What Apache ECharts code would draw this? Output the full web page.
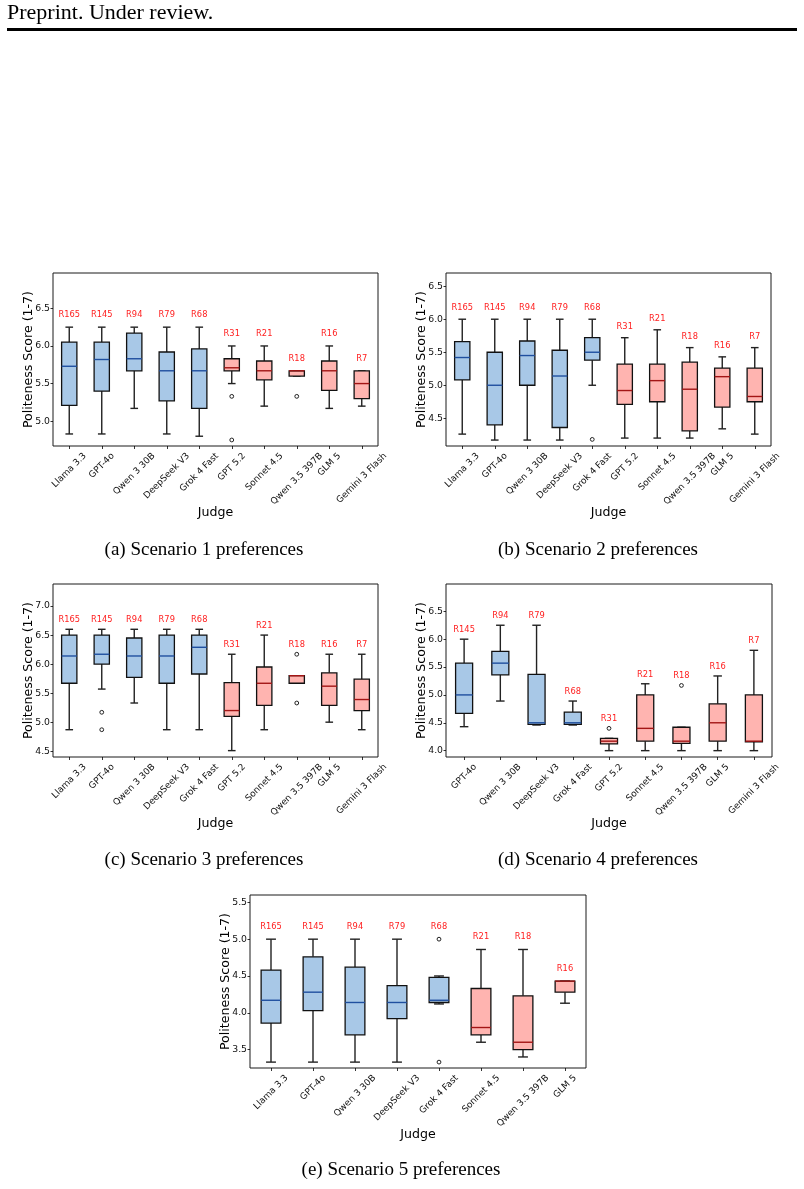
<!DOCTYPE html>
<html><head><meta charset="utf-8">
<script src="https://cdn.jsdelivr.net/npm/echarts@6/dist/echarts.min.js"></script>
<style>html,body{margin:0;padding:0;background:#fff}#c{width:804px;height:1189px}</style>
</head><body><div id="c"></div>
<script>
// ---------------- DATA ----------------
const judgeNames  = ['Llama 3.3','GPT-4o','Qwen 3 30B','DeepSeek V3','Grok 4 Fast','GPT 5.2','Sonnet 4.5','Qwen 3.5 397B','GLM 5','Gemini 3 Flash'];
const judgeRounds = ['R165','R145','R94','R79','R68','R31','R21','R18','R16','R7'];
const blueJudges  = ['Llama 3.3','GPT-4o','Qwen 3 30B','DeepSeek V3','Grok 4 Fast'];

// Scenario 1 : [min, q1, median, q3, max]
const s1Judges = ['Llama 3.3','GPT-4o','Qwen 3 30B','DeepSeek V3','Grok 4 Fast','GPT 5.2','Sonnet 4.5','Qwen 3.5 397B','GLM 5','Gemini 3 Flash'];
const s1Stats = [
  [4.83, 5.21, 5.73, 6.05, 6.25],
  [4.83, 5.40, 5.82, 6.05, 6.25],
  [5.17, 5.67, 5.83, 6.17, 6.25],
  [4.83, 5.27, 5.67, 5.92, 6.25],
  [4.80, 5.17, 5.67, 5.96, 6.25],
  [5.50, 5.67, 5.71, 5.83, 6.00],
  [5.20, 5.55, 5.67, 5.80, 6.00],
  [5.60, 5.60, 5.67, 5.67, 5.67],
  [5.17, 5.41, 5.67, 5.80, 6.00],
  [5.20, 5.30, 5.50, 5.67, 5.67]
];
const s1Outliers = [['GPT 5.2', 5.33], ['GPT 5.2', 4.75], ['Qwen 3.5 397B', 5.33]];
const s1Ticks = [5.0, 5.5, 6.0, 6.5];

// Scenario 2
const s2Judges = ['Llama 3.3','GPT-4o','Qwen 3 30B','DeepSeek V3','Grok 4 Fast','GPT 5.2','Sonnet 4.5','Qwen 3.5 397B','GLM 5','Gemini 3 Flash'];
const s2Stats = [
  [4.26, 5.08, 5.42, 5.66, 6.00],
  [4.17, 4.40, 5.00, 5.50, 6.00],
  [4.17, 5.00, 5.45, 5.67, 6.00],
  [4.17, 4.36, 5.14, 5.53, 6.00],
  [5.00, 5.38, 5.50, 5.72, 6.00],
  [4.20, 4.71, 4.92, 5.32, 5.72],
  [4.20, 4.75, 5.07, 5.32, 5.84],
  [4.20, 4.31, 4.94, 5.35, 5.57],
  [4.34, 4.67, 5.13, 5.26, 5.43],
  [4.26, 4.75, 4.83, 5.26, 5.57]
];
const s2Outliers = [['Grok 4 Fast', 4.18]];
const s2Ticks = [4.5, 5.0, 5.5, 6.0, 6.5];

// Scenario 3
const s3Judges = ['Llama 3.3','GPT-4o','Qwen 3 30B','DeepSeek V3','Grok 4 Fast','GPT 5.2','Sonnet 4.5','Qwen 3.5 397B','GLM 5','Gemini 3 Flash'];
const s3Stats = [
  [4.87, 5.67, 6.14, 6.50, 6.60],
  [5.57, 6.00, 6.17, 6.50, 6.60],
  [5.33, 5.77, 6.14, 6.45, 6.60],
  [4.87, 5.67, 6.14, 6.50, 6.60],
  [4.87, 5.83, 6.29, 6.50, 6.60],
  [4.51, 5.10, 5.20, 5.68, 6.17],
  [4.87, 5.29, 5.67, 5.95, 6.50],
  [5.67, 5.67, 5.80, 5.80, 5.80],
  [5.00, 5.29, 5.62, 5.85, 6.17],
  [4.87, 5.20, 5.39, 5.74, 6.17]
];
const s3Outliers = [['GPT-4o', 5.17], ['GPT-4o', 4.87], ['Qwen 3.5 397B', 6.17], ['Qwen 3.5 397B', 5.33]];
const s3Ticks = [4.5, 5.0, 5.5, 6.0, 6.5, 7.0];

// Scenario 4
const s4Judges = ['GPT-4o','Qwen 3 30B','DeepSeek V3','Grok 4 Fast','GPT 5.2','Sonnet 4.5','Qwen 3.5 397B','GLM 5','Gemini 3 Flash'];
const s4Stats = [
  [4.43, 4.67, 5.00, 5.57, 6.00],
  [4.89, 5.36, 5.57, 5.78, 6.25],
  [4.46, 4.47, 4.50, 5.37, 6.25],
  [4.46, 4.47, 4.50, 4.69, 4.89],
  [4.00, 4.12, 4.17, 4.22, 4.22],
  [4.00, 4.17, 4.40, 5.00, 5.20],
  [4.00, 4.13, 4.17, 4.42, 4.42],
  [4.00, 4.17, 4.50, 4.84, 5.34],
  [4.00, 4.16, 4.17, 5.00, 5.80]
];
const s4Outliers = [['GPT 5.2', 4.40], ['Qwen 3.5 397B', 5.17]];
const s4Ticks = [4.0, 4.5, 5.0, 5.5, 6.0, 6.5];

// Scenario 5
const s5Judges = ['Llama 3.3','GPT-4o','Qwen 3 30B','DeepSeek V3','Grok 4 Fast','Sonnet 4.5','Qwen 3.5 397B','GLM 5'];
const s5Stats = [
  [3.33, 3.86, 4.17, 4.58, 5.00],
  [3.33, 4.03, 4.28, 4.76, 5.00],
  [3.33, 3.70, 4.14, 4.62, 5.00],
  [3.33, 3.92, 4.14, 4.37, 5.00],
  [4.12, 4.14, 4.17, 4.48, 4.50],
  [3.60, 3.70, 3.80, 4.33, 4.86],
  [3.40, 3.50, 3.60, 4.23, 4.86],
  [4.13, 4.28, 4.43, 4.43, 4.43]
];
const s5Outliers = [['Grok 4 Fast', 5.00], ['Grok 4 Fast', 3.33]];
const s5Ticks = [3.5, 4.0, 4.5, 5.0, 5.5];

// ---------------- LAYOUT / STYLE ----------------
const FONT = '"DejaVu Sans", sans-serif';
const SERIF = '"Liberation Serif", "Times New Roman", serif';
const TICK_FS = 9, TICK_LH = 10, LABEL_PAD = 5;
const NAME_FS = 12.6;
const LABEL_OFFSET = 0.165; // round label above top datum (data units)

const panels = [
  {cats: s1Judges, stats: s1Stats, outliers: s1Outliers, ticks: s1Ticks, yMin: 4.67, yMax: 6.97,
   grid: {left: 53, top: 273, width: 325, height: 173}, caption: '(a) Scenario 1 preferences', cx: 204, cy: 550},
  {cats: s2Judges, stats: s2Stats, outliers: s2Outliers, ticks: s2Ticks, yMin: 4.08, yMax: 6.70,
   grid: {left: 446, top: 273, width: 325, height: 173}, caption: '(b) Scenario 2 preferences', cx: 598, cy: 550},
  {cats: s3Judges, stats: s3Stats, outliers: s3Outliers, ticks: s3Ticks, yMin: 4.40, yMax: 7.38,
   grid: {left: 53, top: 584, width: 325, height: 173}, caption: '(c) Scenario 3 preferences', cx: 204, cy: 860},
  {cats: s4Judges, stats: s4Stats, outliers: s4Outliers, ticks: s4Ticks, yMin: 3.886, yMax: 6.99,
   grid: {left: 446, top: 584, width: 326, height: 173}, caption: '(d) Scenario 4 preferences', cx: 598, cy: 860},
  {cats: s5Judges, stats: s5Stats, outliers: s5Outliers, ticks: s5Ticks, yMin: 3.25, yMax: 5.60,
   grid: {left: 250, top: 895, width: 336, height: 173}, caption: '(e) Scenario 5 preferences', cx: 401, cy: 1170}
];

const COLORS = {
  blueFill: '#a8c8e7', blueMed: '#1f4f9f',
  redFill: '#ffb4b0', redMed: '#a31515',
  edge: '#111111', whisker: '#222222', round: '#ff2020'
};

const mctx = document.createElement('canvas').getContext('2d');
function textW(s) { mctx.font = TICK_FS + 'px "DejaVu Sans"'; return mctx.measureText(s).width; }

function makeRender(p) {
  return function (params, api) {
    const i = api.value(0);
    const name = p.cats[params.dataIndex];
    const blue = blueJudges.indexOf(name) >= 0;
    const x = api.coord([i, api.value(3)])[0];
    const yLow = api.coord([i, api.value(1)])[1];
    const yQ1 = api.coord([i, api.value(2)])[1];
    const yMed = api.coord([i, api.value(3)])[1];
    const yQ3 = api.coord([i, api.value(4)])[1];
    const yHigh = api.coord([i, api.value(5)])[1];
    const yLab = api.coord([i, api.value(6) + LABEL_OFFSET])[1];
    const bw = api.size([1, 0])[0] * 0.47;
    const cw = bw * 0.5;
    const ws = {stroke: COLORS.whisker, lineWidth: 1.4};
    return {type: 'group', children: [
      {type: 'line', shape: {x1: x, y1: yQ1, x2: x, y2: yLow}, style: ws},
      {type: 'line', shape: {x1: x, y1: yQ3, x2: x, y2: yHigh}, style: ws},
      {type: 'line', shape: {x1: x - cw / 2, y1: yLow, x2: x + cw / 2, y2: yLow}, style: ws},
      {type: 'line', shape: {x1: x - cw / 2, y1: yHigh, x2: x + cw / 2, y2: yHigh}, style: ws},
      {type: 'rect', shape: {x: x - bw / 2, y: yQ3, width: bw, height: Math.max(yQ1 - yQ3, 0.5)},
       style: {fill: blue ? COLORS.blueFill : COLORS.redFill, stroke: COLORS.edge, lineWidth: 1.3}},
      {type: 'line', shape: {x1: x - bw / 2, y1: yMed, x2: x + bw / 2, y2: yMed},
       style: {stroke: blue ? COLORS.blueMed : COLORS.redMed, lineWidth: 1.4}},
      {type: 'text', x: x, y: yLab,
       style: {text: judgeRounds[judgeNames.indexOf(name)], fill: COLORS.round, fontSize: 8.3, fontFamily: FONT,
               align: 'center', verticalAlign: 'middle'}}
    ]};
  };
}

const option = {
  animation: false, backgroundColor: '#fff',
  grid: [], xAxis: [], yAxis: [], series: [],
  graphic: [
    {type: 'text', x: 7, y: 13, style: {text: 'Preprint. Under review.', fontSize: 22, fontFamily: SERIF, fill: '#000', verticalAlign: 'middle'}},
    {type: 'rect', shape: {x: 7, y: 28, width: 790, height: 3}, style: {fill: '#000'}}
  ]
};

panels.forEach((p, k) => {
  option.graphic.push({type: 'text', x: p.cx, y: p.cy,
    style: {text: p.caption, fontSize: 19, fontFamily: SERIF, fill: '#000', align: 'center', verticalAlign: 'middle'}});
  option.grid.push(Object.assign({show: true, borderColor: '#1a1a1a', borderWidth: 1, backgroundColor: 'transparent',
    containLabel: false, outerBoundsMode: 'none'}, p.grid));
  const rich = {};
  p.cats.forEach((c, i) => {
    const P = (textW(c) + TICK_LH) / 2;
    rich['t' + i] = {fontSize: TICK_FS, lineHeight: TICK_LH, fontFamily: FONT, color: '#111', padding: [P, P, 0, 0]};
  });
  option.xAxis.push({
    type: 'category', gridIndex: k, data: p.cats, boundaryGap: true,
    name: 'Judge', nameLocation: 'middle', nameGap: 60, nameMoveOverlap: false,
    nameTextStyle: {fontSize: NAME_FS, color: '#000', fontFamily: FONT},
    axisLine: {show: false},
    axisTick: {show: true, alignWithLabel: true, length: 3, lineStyle: {color: '#000', width: 0.8}},
    axisLabel: {interval: 0, rotate: 45, align: 'center', verticalAlign: 'middle', margin: LABEL_PAD,
      formatter: (v, i) => '{t' + i + '|' + v + '}', rich: rich},
    splitLine: {show: false}
  });
  option.yAxis.push({
    type: 'value', gridIndex: k, min: p.yMin, max: p.yMax,
    name: 'Politeness Score (1-7)', nameLocation: 'middle', nameRotate: 90, nameGap: 18, nameMoveOverlap: false,
    nameTextStyle: {fontSize: NAME_FS, color: '#000', fontFamily: FONT},
    axisLine: {show: false},
    axisTick: {show: true, length: 2.5, customValues: p.ticks, lineStyle: {color: '#000', width: 0.8}},
    axisLabel: {customValues: p.ticks, formatter: v => v.toFixed(1), fontSize: 9.3, color: '#111', margin: 3, fontFamily: FONT},
    splitLine: {show: false}
  });
  const data = p.stats.map((s, i) => {
    let top = s[4];
    p.outliers.forEach(o => { if (o[0] === p.cats[i] && o[1] > top) top = o[1]; });
    return [i, s[0], s[1], s[2], s[3], s[4], top];
  });
  option.series.push({
    type: 'custom', xAxisIndex: k, yAxisIndex: k, data: data, renderItem: makeRender(p),
    encode: {x: 0, y: [1, 2, 3, 4, 5]}, clip: false, silent: true
  });
  option.series.push({
    type: 'scatter', xAxisIndex: k, yAxisIndex: k, data: p.outliers, symbol: 'circle', symbolSize: 3.8,
    itemStyle: {color: '#fff', borderColor: '#222', borderWidth: 1, opacity: 1}, silent: true, z: 5
  });
});

const chart = echarts.init(document.getElementById('c'), null, {renderer: 'canvas'});
chart.setOption(option);
</script></body></html>
